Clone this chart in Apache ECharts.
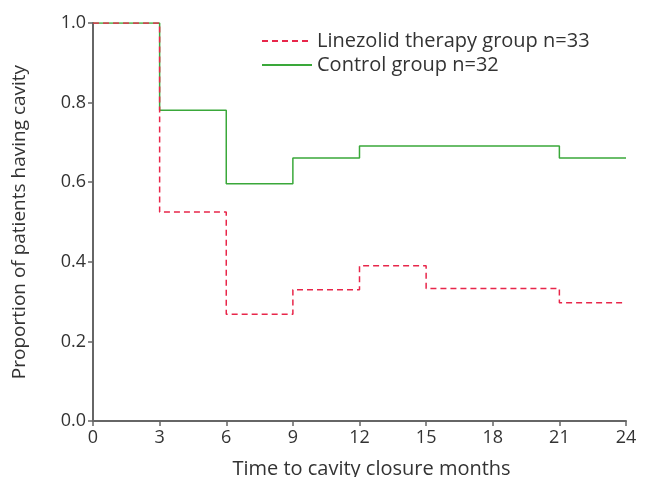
<!DOCTYPE html>
<html>
<head>
<meta charset="utf-8">
<script src="https://cdn.jsdelivr.net/npm/echarts@6/dist/echarts.min.js"></script>
<style>html,body{margin:0;padding:0;background:#fff}#c{width:650px;height:477px}</style>
</head>
<body>
<div id="c"></div>
<script>
const months = [0, 3, 6, 9, 12, 15, 18, 21, 24];
const linezolidX = [0, 3, 6, 9, 12, 15, 21, 24];
const linezolidY = [1.0, 0.525, 0.268, 0.33, 0.39, 0.333, 0.297, 0.297];
const controlX = [0, 3, 6, 9, 12, 21, 24];
const controlY = [1.0, 0.781, 0.596, 0.661, 0.691, 0.661, 0.661];
const seriesNames = ['Linezolid therapy group n=33', 'Control group n=32'];

const font = 'Open Sans';
const chart = echarts.init(document.getElementById('c'));
chart.setOption({
  animation: false,
  grid: { left: 93, right: 24, top: 23, bottom: 56, containLabel: false, outerBoundsMode: 'none' },
  legend: {
    left: 256, top: 26, orient: 'vertical', itemGap: 4,
    itemWidth: 50, itemHeight: 23,
    itemStyle: { opacity: 0 },
    textStyle: { fontFamily: font, fontSize: 20, color: '#333' },
    data: seriesNames
  },
  xAxis: {
    type: 'value', min: 0, max: 24, interval: 3,
    name: 'Time to cavity closure months', nameLocation: 'middle', nameGap: 38,
    nameTextStyle: { fontFamily: font, fontSize: 20, color: '#333', padding: [0, 0, 0, 24] },
    axisLine: { lineStyle: { color: '#666', width: 2 } },
    axisTick: { length: 5, lineStyle: { color: '#666', width: 1.5 } },
    axisLabel: { fontFamily: font, fontSize: 18, color: '#333', margin: 8,
      formatter: v => months.includes(v) ? String(v) : '' },
    splitLine: { show: false }
  },
  yAxis: {
    type: 'value', min: 0, max: 1, interval: 0.2,
    name: 'Proportion of patients having cavity', nameLocation: 'middle', nameGap: 64,
    nameTextStyle: { fontFamily: font, fontSize: 19, color: '#333' },
    axisLine: { show: true, lineStyle: { color: '#666', width: 2 } },
    axisTick: { show: true, length: 5, lineStyle: { color: '#666', width: 1.5 } },
    axisLabel: { fontFamily: font, fontSize: 18, color: '#333', margin: 7,
      formatter: v => v.toFixed(1) },
    splitLine: { show: false }
  },
  series: [
    {
      name: seriesNames[1], type: 'line', step: 'end', symbol: 'none', z: 2,
      lineStyle: { color: '#3aa83a', width: 1.5 },
      itemStyle: { color: '#3aa83a' },
      data: controlX.map((x, i) => [x, controlY[i]])
    },
    {
      name: seriesNames[0], type: 'line', step: 'end', symbol: 'none', z: 3,
      lineStyle: { color: '#e8264a', width: 1.5, type: [6, 4] },
      itemStyle: { color: '#e8264a' },
      data: linezolidX.map((x, i) => [x, linezolidY[i]])
    }
  ]
});
</script>
</body>
</html>
